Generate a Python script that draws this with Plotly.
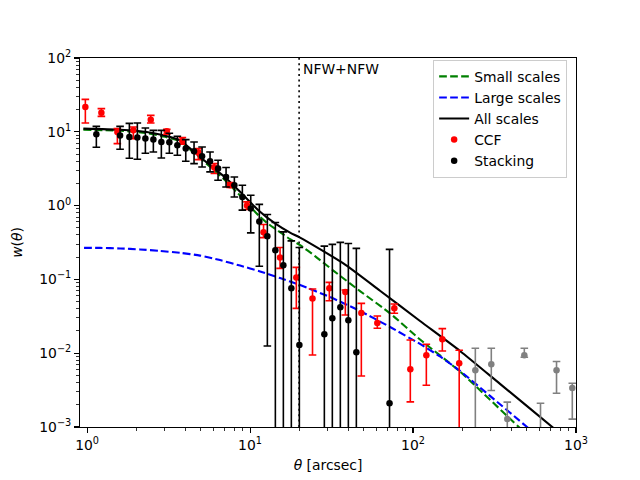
import plotly.graph_objects as go

# ---------------- data ----------------
# Stacking (black points)
stack_theta = [1.14, 1.594, 1.818, 2.035, 2.279, 2.551, 2.856, 3.198, 3.581, 4.032,
               4.533, 5.077, 5.683, 6.364, 7.126, 8.012, 8.97, 10.1, 11.4, 12.77,
               14.3, 16.01, 17.92, 20.07, 28.57, 31.98, 35.81, 40.1, 44.9, 71.75]
stack_w = [9.25, 8.88, 8.50, 8.34, 8.09, 7.84, 7.27, 7.21, 6.56, 5.92,
           5.44, 4.66, 3.99, 3.18, 2.44, 1.89, 1.31, 0.914, 0.609, 0.385,
           0.249, 0.155, 0.0756, 0.0129, 0.0180, 0.0297, 0.0418, 0.0279, 0.0103, 0.0021]
stack_hi = [11.86, 11.86, 13.02, 13.15, 11.25, 10.47, 10.47, 9.54, 8.69, 7.84,
            7.27, 6.22, 5.33, 4.11, 3.28, 2.44, 1.89, 1.38, 1.04, 0.758,
            0.59, 0.441, 0.333, 0.271, 0.282, 0.298, 0.317, 0.307, 0.263, 0.255]
stack_lo = [6.17, 5.79, 4.38, 4.24, 5.12, 5.33, 4.42, 5.12, 4.81, 3.99,
            3.71, 3.34, 2.86, 2.21, 1.79, 1.31, 0.867, 0.427, 0.151, 0.0125,
            0, 0, 0, 0, 0, 0, 0, 0, 0, 0]

# CCF (red points)
ccf_theta = [0.976, 1.224, 1.534, 1.923, 2.459, 3.083, 3.843, 4.818, 6.039, 7.54,
             9.58, 12.1, 15.28, 19.23, 24.17, 30.65, 38.43, 48.18, 60.39, 76.79,
             96.25, 120.7, 151.3, 192.0]
ccf_w = [21.63, 18.18, 9.93, 10.47, 14.62, 10.15, 7.5, 5.23, 3.28, 1.89,
         1.0, 0.437, 0.1986, 0.1065, 0.0553, 0.0756, 0.0674, 0.035, 0.02565, 0.0405,
         0.00606, 0.00938, 0.01543, 0.00731]
ccf_hi = [27.51, 20.58, 11.04, 11.6, 16.71, 10.8, 8.34, 5.92, 3.71, 2.05,
          1.122, 0.555, 0.271, 0.1455, 0.074, 0.0911, 0.0717, 0.0474, 0.0319, 0.0464,
          0.0151, 0.0132, 0.0215, 0.01096]
ccf_lo = [13.15, 16.2, 6.92, 8.09, 13.15, 9.25, 6.77, 4.2, 2.72, 1.76,
          0.886, 0.368, 0.141, 0.0405, 0.00947, 0.0514, 0.0329, 0.00492, 0.02175, 0.0347,
          0.00219, 0.00368, 0.01072, 0]

# large-scale CCF points (grey)
grey_theta = [241.2, 302.2, 378.8, 481.8, 605.7, 759.5, 949.0]
grey_w = [0.00588, 0.00709, 0.00128, 0.00938, 0.0006, 0.00588, 0.00337]
grey_hi = [0.01166, 0.01166, 0.00217, 0.01166, 0.0021, 0.00773, 0.00392]
grey_lo = [0, 0.00313, 0, 0.00881, 0, 0.00287, 0.00128]

# model curves
small_theta = [0.949, 1.594, 2.324, 3.009, 3.720, 4.598, 5.683, 7.025, 8.894, 11.24,
               12.66, 14.23, 17.6, 20.27, 25.05, 32.43, 47.3, 72.26, 110.4, 194.2,
               453.4, 1000]
small_w = [10.70, 10.31, 9.627, 8.552, 7.434, 5.036, 3.358, 2.206, 1.299, 0.7414,
           0.587, 0.4869, 0.3511, 0.2912, 0.2068, 0.1316, 0.0695, 0.0347, 0.01534, 0.00563,
           0.000965, 0.000205]

large_theta = [0.958, 1.202, 1.594, 2.114, 2.804, 3.720, 4.934, 6.546, 8.682, 11.52,
               15.28, 20.27, 30.96, 47.3, 72.26, 110.4, 146.4, 194.2, 296.8, 509.9, 1000]
large_w = [0.2678, 0.2670, 0.2628, 0.2547, 0.2431, 0.2291, 0.2101, 0.1826, 0.1538, 0.1284,
           0.1042, 0.0838, 0.0576, 0.0373, 0.02265, 0.01334, 0.00903, 0.00575, 0.00264, 0.000965,
           0.000273]

all_theta = [0.949, 1.594, 2.324, 3.009, 3.720, 4.598, 5.683, 7.025, 8.894, 11.24,
             14.23, 17.6, 20.27, 37.37, 62.74, 110.4, 194.2, 341.8, 709.5, 1000]
all_w = [11.04, 10.64, 9.93, 8.824, 7.668, 5.195, 3.52, 2.422, 1.458, 0.867,
         0.573, 0.4298, 0.3679, 0.1647, 0.0702, 0.0273, 0.01072, 0.00384, 0.001015, 0.000539]

split_theta = 20
line_label = "NFW+NFW"

x_tick_vals = [1, 10, 100, 1000]
x_tick_text = ["10<sup>0</sup>", "10<sup>1</sup>", "10<sup>2</sup>", "10<sup>3</sup>"]
y_tick_vals = [1e-3, 1e-2, 1e-1, 1, 10, 100]
y_tick_text = ["10<sup>\u22123</sup>", "10<sup>\u22122</sup>", "10<sup>\u22121</sup>",
               "10<sup>0</sup>", "10<sup>1</sup>", "10<sup>2</sup>"]

# ---------------- figure ----------------
FONT = "DejaVu Sans"
FS = 13.9


def err(w, hi, lo):
    plus = [h - v for v, h in zip(w, hi)]
    minus = [v - (l if l > 0 else 1e-7) for v, l in zip(w, lo)]
    return plus, minus


fig = go.Figure()

fig.add_trace(go.Scatter(x=small_theta, y=small_w, mode="lines", name="Small scales",
                         line=dict(color="green", width=2.1, dash="7.7px,3.3px", shape="spline", smoothing=0.6)))
fig.add_trace(go.Scatter(x=large_theta, y=large_w, mode="lines", name="Large scales",
                         line=dict(color="blue", width=2.1, dash="7.7px,3.3px", shape="spline", smoothing=0.6)))
fig.add_trace(go.Scatter(x=all_theta, y=all_w, mode="lines", name="All scales",
                         line=dict(color="black", width=2.1, shape="spline", smoothing=0.6)))

p, m = err(ccf_w, ccf_hi, ccf_lo)
fig.add_trace(go.Scatter(x=ccf_theta, y=ccf_w, mode="markers", name="CCF",
                         marker=dict(color="red", size=6.5),
                         error_y=dict(type="data", symmetric=False, array=p, arrayminus=m,
                                      color="red", thickness=1.6, width=3.8)))
p, m = err(stack_w, stack_hi, stack_lo)
fig.add_trace(go.Scatter(x=stack_theta, y=stack_w, mode="markers", name="Stacking",
                         marker=dict(color="black", size=6.5),
                         error_y=dict(type="data", symmetric=False, array=p, arrayminus=m,
                                      color="black", thickness=1.6, width=3.8)))
p, m = err(grey_w, grey_hi, grey_lo)
fig.add_trace(go.Scatter(x=grey_theta, y=grey_w, mode="markers", showlegend=False,
                         marker=dict(color="grey", size=6.5),
                         error_y=dict(type="data", symmetric=False, array=p, arrayminus=m,
                                      color="grey", thickness=1.6, width=3.8)))
fig.add_trace(go.Scatter(x=[split_theta, split_theta], y=[1e-3, 1e2], mode="lines", showlegend=False,
                         line=dict(color="black", width=1.6, dash="2px,3.4px")))

fig.add_annotation(x=1.315, y=1.848, xref="x", yref="y", text=line_label, showarrow=False,
                   xanchor="left", yanchor="middle", font=dict(family=FONT, size=FS, color="black"))

axis_common = dict(type="log", showline=True, linecolor="black", linewidth=1.1, mirror=True,
                   ticks="outside", ticklen=4.9, tickwidth=1.1, tickcolor="black",
                   showgrid=False, zeroline=False,
                   tickfont=dict(family=FONT, size=FS, color="black"),
                   minor=dict(ticks="outside", ticklen=2.8, tickwidth=0.8, tickcolor="black",
                              showgrid=False, dtick="D1"))

fig.update_xaxes(**axis_common, range=[-0.0434, 3], tickmode="array",
                 tickvals=x_tick_vals, ticktext=x_tick_text,
                 title=dict(text="<i>θ</i> [arcsec]", font=dict(family=FONT, size=FS, color="black"),
                            standoff=8))
fig.update_yaxes(**axis_common, range=[-3, 2], tickmode="array",
                 tickvals=y_tick_vals, ticktext=y_tick_text,
                 title=dict(text="<i>w</i>(<i>θ</i>)", font=dict(family=FONT, size=FS, color="black"),
                            standoff=13))

fig.update_layout(
    width=640, height=480,
    margin=dict(l=80, r=64, t=57.6, b=52.8, autoexpand=False),
    paper_bgcolor="white", plot_bgcolor="white",
    font=dict(family=FONT, size=FS, color="black"),
    hovermode=False,
    legend=dict(x=0.712, y=0.995, xanchor="left", yanchor="top",
                bgcolor="rgba(255,255,255,0.8)", bordercolor="#cccccc", borderwidth=1,
                font=dict(family=FONT, size=FS, color="black"), itemwidth=30,
                tracegroupgap=0),
)

fig.write_html("out.html", config={"displayModeBar": False, "staticPlot": True},
               post_script="document.body.style.margin='0';document.body.style.overflow='hidden';")
